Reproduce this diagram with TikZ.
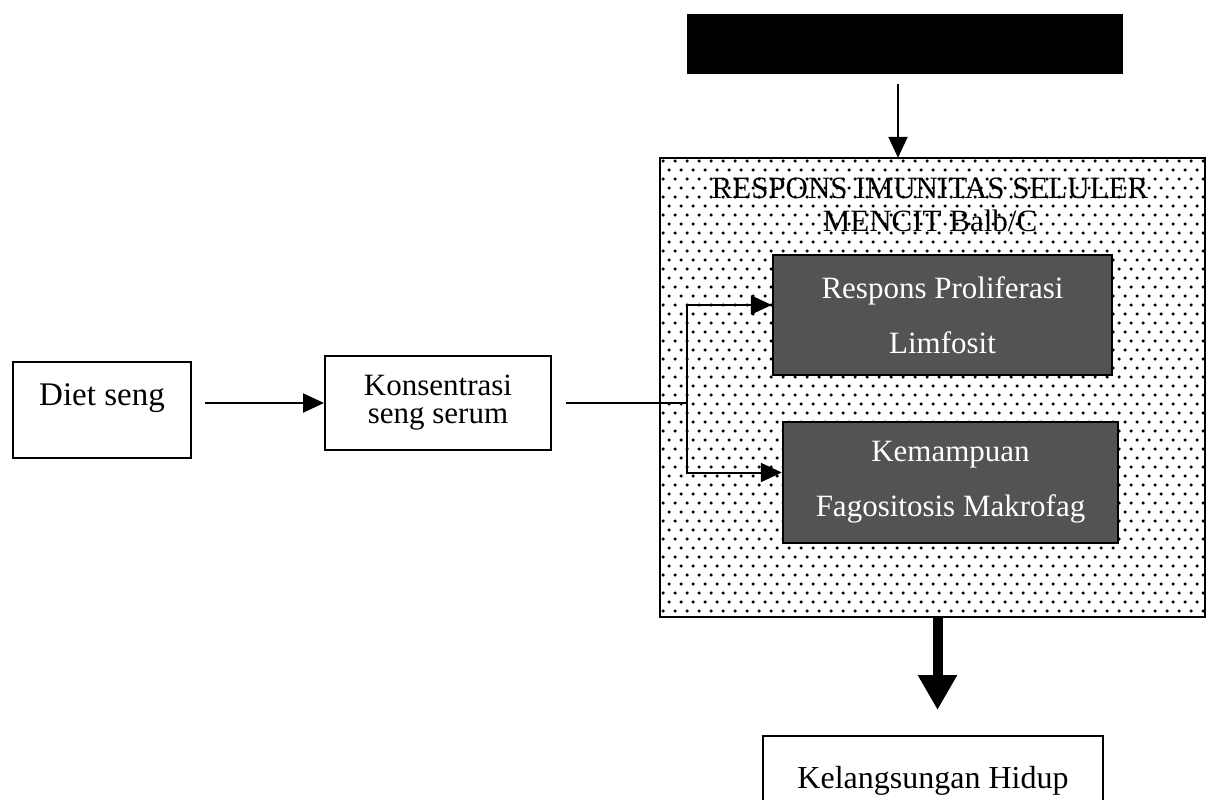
\documentclass[tikz,border=0pt]{standalone}
\usepackage{fontspec}
\setmainfont{Liberation Serif}
\usetikzlibrary{arrows.meta}
\newcommand{\txtfont}{\fontsize{31}{28}\selectfont}
\begin{document}
\begin{tikzpicture}[x=1pt,y=-1pt,
  plainbox/.style={draw, line width=2pt, rectangle, inner sep=0pt, align=center,
    font=\txtfont},
  graybox/.style={draw, line width=2.4pt, rectangle, inner sep=0pt, align=center,
    fill=gray!65!black, text=white, font=\fontsize{31}{55}\selectfont},
  thinarrow/.style={line width=2pt, -{Triangle[length=21pt,width=19pt]}},
  thickarrow/.style={line width=10pt, -{Triangle[length=35pt,width=37pt]}}
]
\useasboundingbox (0,0) rectangle (1211,800);

% top black block
\node[fill=black, minimum width=436pt, minimum height=60pt, inner sep=0pt] (black) at (905,44) {};

% large dotted frame
\node[minimum width=545pt, minimum height=459pt, inner sep=0pt] (imun) at (932.5,387.5) {};
\begin{scope}
  \clip (imun.north west) rectangle (imun.south east);
  \foreach \r in {0,...,51} {
    \foreach \c in {0,...,46} {
      \fill ({663+\c*12+mod(\r,2)*6},{161+\r*9}) circle (1.75);
    }
  }
\end{scope}
\draw[line width=2.2pt] (imun.north west) rectangle (imun.south east);

\node[align=center, font=\fontsize{31}{33}\selectfont] (title) at (930,205)
  {RESPONS IMUNITAS SELULER\\MENCIT Balb/C};

% inner gray boxes
\node[graybox, minimum width=339pt, minimum height=120pt] (g1) at (942.5,315)
  {Respons Proliferasi\\Limfosit};
\node[graybox, minimum width=335pt, minimum height=121pt] (g2) at (950.5,482.5)
  {Kemampuan\\Fagositosis Makrofag};

% left boxes
\node[plainbox, minimum width=178pt, minimum height=96pt, text height=22pt, text depth=31pt,
  font=\fontsize{33}{33}\selectfont] (diet) at (102,410) {Diet seng};
\node[plainbox, minimum width=226pt, minimum height=94pt] (konz) at (438,403)
  {Konsentrasi\\seng serum};

% bottom box
\node[plainbox, anchor=north, minimum width=340pt, inner ysep=30pt, text height=22pt,
  text depth=20pt, font=\fontsize{32}{34}\selectfont] (kel) at (933,735) {Kelangsungan Hidup};

% connectors
\coordinate (br) at (687,403);
\draw[thinarrow, shorten <=10pt] ([xshift=-7pt]black.south) -- ([xshift=-7pt]black.south |- imun.north);
\draw[thinarrow, shorten <=13pt] (diet.east |- konz.west) -- (konz.west);
\draw[line width=2pt, shorten <=14pt] (konz.east) -- (br);
\draw[thinarrow] (br) |- ([yshift=10pt]g1.west);
\draw[thinarrow] (br) |- ([yshift=10pt]g2.west);
\draw[thickarrow, shorten >=25pt] ([xshift=5pt]imun.south) -- ([xshift=5pt]imun.south |- kel.north);
\end{tikzpicture}
\end{document}
